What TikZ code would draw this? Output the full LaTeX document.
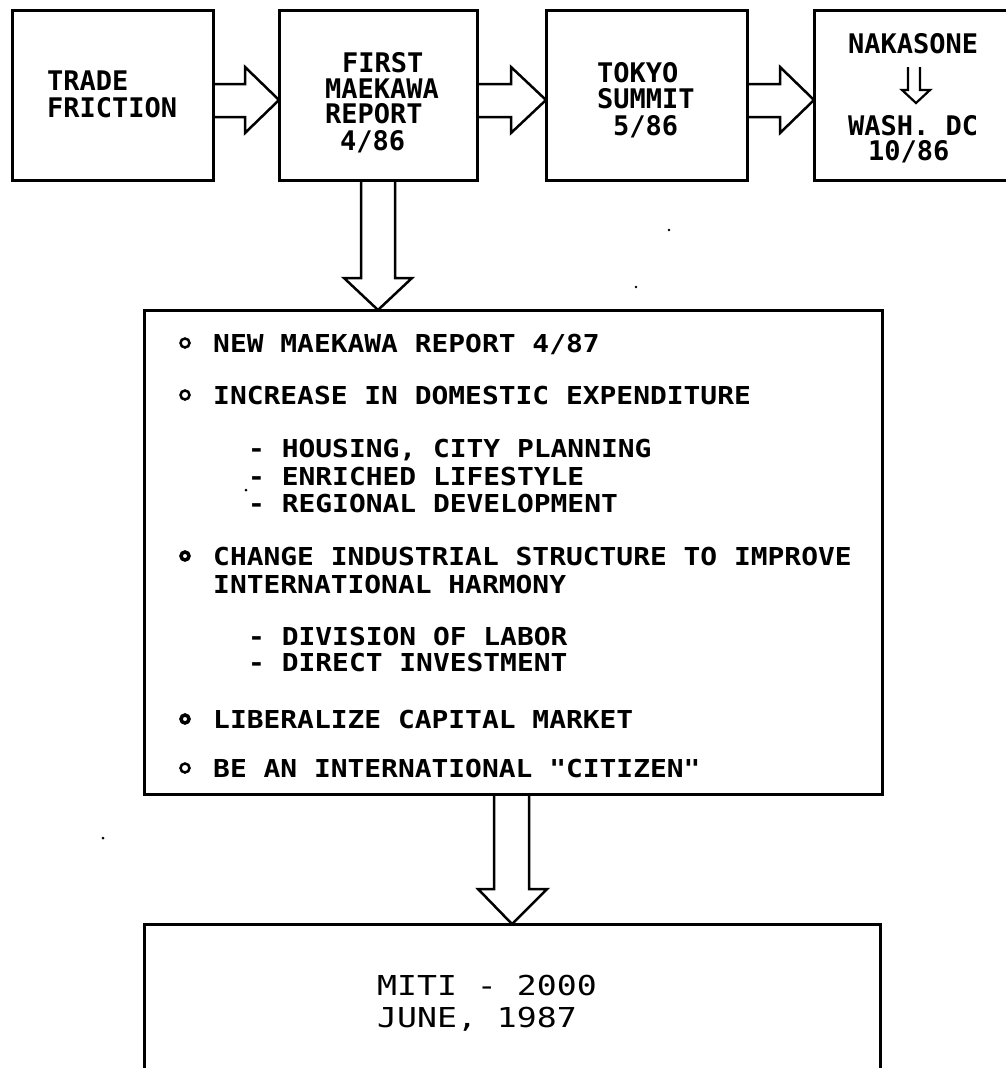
\documentclass[tikz,border=0pt]{standalone}
\usepackage{fontspec}
\usetikzlibrary{calc}
\newfontfamily\fmain[FakeStretch=1.13]{DejaVu Sans Mono Bold}
\newfontfamily\ftop{DejaVu Sans Mono Bold}
\newfontfamily\fbot[FakeStretch=1.21]{DejaVu Sans Mono}
\tikzset{
  boxstyle/.style={draw, line width=3pt, inner sep=0pt, outer sep=0pt},
  harrow/.style={draw, line width=2.5pt, line join=miter},
  toptext/.style={anchor=base west, inner sep=0pt, font=\ftop\fontsize{27}{30}\selectfont},
  maintext/.style={anchor=base west, inner sep=0pt, font=\fmain\fontsize{24.7}{28}\selectfont},
  bottext/.style={anchor=base west, inner sep=0pt, font=\fbot\fontsize{27.4}{31}\selectfont},
  bulletthin/.style={draw, line width=2.5pt},
  bulletthick/.style={draw, line width=3.5pt},
  speck/.style={fill=black}
}
\begin{document}
\begin{tikzpicture}[x=1pt,y=-1pt]
\useasboundingbox (0,0) rectangle (1006,1068);
\clip (0,0) rectangle (1006,1068);

% top boxes
\node[boxstyle, minimum width=201pt, minimum height=170pt] (b1) at (112.5,95) {};
\node[boxstyle, minimum width=198pt, minimum height=170pt] (b2) at (378,95) {};
\node[boxstyle, minimum width=201pt, minimum height=170pt] (b3) at (646.5,95) {};
\node[boxstyle, minimum width=196pt, minimum height=170pt] (b4) at (912,95) {};

% main and bottom boxes
\node[boxstyle, minimum width=738pt, minimum height=484pt] (main) at (513,552) {};
\node[boxstyle, minimum width=736pt, minimum height=200pt] (bot) at (512,1024) {};

% top box texts
\node[toptext] (t1a) at (47,90) {TRADE};
\node[toptext] (t1b) at (47,117) {FRICTION};
\node[toptext] (t2a) at (342,72) {FIRST};
\node[toptext] (t2b) at (325,98) {MAEKAWA};
\node[toptext] (t2c) at (325,123) {REPORT};
\node[toptext] (t2d) at (340,150) {4/86};
\node[toptext] (t3a) at (597,82) {TOKYO};
\node[toptext] (t3b) at (597,108) {SUMMIT};
\node[toptext] (t3c) at (613,135) {5/86};
\node[toptext] (t4a) at (848,53) {NAKASONE};
\node[toptext] (t4b) at (848,135) {WASH. DC};
\node[toptext] (t4c) at (868,160) {10/86};

% small hollow arrow inside box 4
\coordinate (sa) at (914,67);
\draw[harrow, line width=2.2pt] let \p1=(sa) in
  (\x1-6pt,\y1) -- (\x1-6pt,\y1-23pt) -- (\x1-12pt,\y1-23pt) -- (\x1+2pt,\y1-36pt)
  -- (\x1+16pt,\y1-23pt) -- (\x1+6pt,\y1-23pt) -- (\x1+6pt,\y1);

% horizontal hollow arrows
\draw[harrow] ($(b1.east)+(0,-11)$) -- ($(b2.west)+(-34,-11)$) -- ($(b2.west)+(-34,-28)$)
  -- ($(b2.west)+(0,5)$) -- ($(b2.west)+(-34,38)$) -- ($(b2.west)+(-34,22)$) -- ($(b1.east)+(0,22)$);
\draw[harrow] ($(b2.east)+(0,-11)$) -- ($(b3.west)+(-35,-11)$) -- ($(b3.west)+(-35,-28)$)
  -- ($(b3.west)+(0,5)$) -- ($(b3.west)+(-35,38)$) -- ($(b3.west)+(-35,22)$) -- ($(b2.east)+(0,22)$);
\draw[harrow] ($(b3.east)+(0,-11)$) -- ($(b4.west)+(-34,-11)$) -- ($(b4.west)+(-34,-28)$)
  -- ($(b4.west)+(0,5)$) -- ($(b4.west)+(-34,38)$) -- ($(b4.west)+(-34,22)$) -- ($(b3.east)+(0,22)$);

% vertical hollow arrows
\draw[harrow] let \p1=(b2.south), \p2=(main.north) in
  (\x1-17pt,\y1) -- (\x1-17pt,\y2+32pt) -- (\x1-34pt,\y2+32pt) -- (\x1,\y2)
  -- (\x1+34pt,\y2+32pt) -- (\x1+17pt,\y2+32pt) -- (\x1+17pt,\y1);
\draw[harrow] let \p1=(main.south), \p2=(bot.north) in
  (\x1-19pt,\y1) -- (\x1-19pt,\y2+35pt) -- (\x1-35pt,\y2+35pt) -- (\x1-1pt,\y2)
  -- (\x1+34pt,\y2+35pt) -- (\x1+16pt,\y2+35pt) -- (\x1+16pt,\y1);

% bullets
\draw[bulletthin] (185,343) circle (4.5pt);
\draw[bulletthin] (185,395) circle (4.5pt);
\draw[bulletthick] (185,556) circle (4pt);
\draw[bulletthick] (185,719) circle (4pt);
\draw[bulletthin] (185,768) circle (4.5pt);

% main box texts
\node[maintext] (m1) at (213,352) {NEW MAEKAWA REPORT 4/87};
\node[maintext] (m2) at (213,404) {INCREASE IN DOMESTIC EXPENDITURE};
\node[maintext] (m3) at (248,457) {- HOUSING, CITY PLANNING};
\node[maintext] (m4) at (248,485) {- ENRICHED LIFESTYLE};
\node[maintext] (m5) at (248,512) {- REGIONAL DEVELOPMENT};
\node[maintext] (m6) at (213,565) {CHANGE INDUSTRIAL STRUCTURE TO IMPROVE};
\node[maintext] (m7) at (213,593) {INTERNATIONAL HARMONY};
\node[maintext] (m8) at (248,645) {- DIVISION OF LABOR};
\node[maintext] (m9) at (248,671) {- DIRECT INVESTMENT};
\node[maintext] (m10) at (213,728) {LIBERALIZE CAPITAL MARKET};
\node[maintext] (m11) at (213,777) {BE AN INTERNATIONAL "CITIZEN"};

% bottom box texts
\node[bottext] (z1) at (377,995) {MITI - 2000};
\node[bottext] (z2) at (377,1027) {JUNE, 1987};

% scan specks
\fill[speck] (246,490) circle (1.5pt);
\fill[speck] (669,230) circle (1.3pt);
\fill[speck] (636,287) circle (1.3pt);
\fill[speck] (103,838) circle (1.5pt);
\end{tikzpicture}
\end{document}
